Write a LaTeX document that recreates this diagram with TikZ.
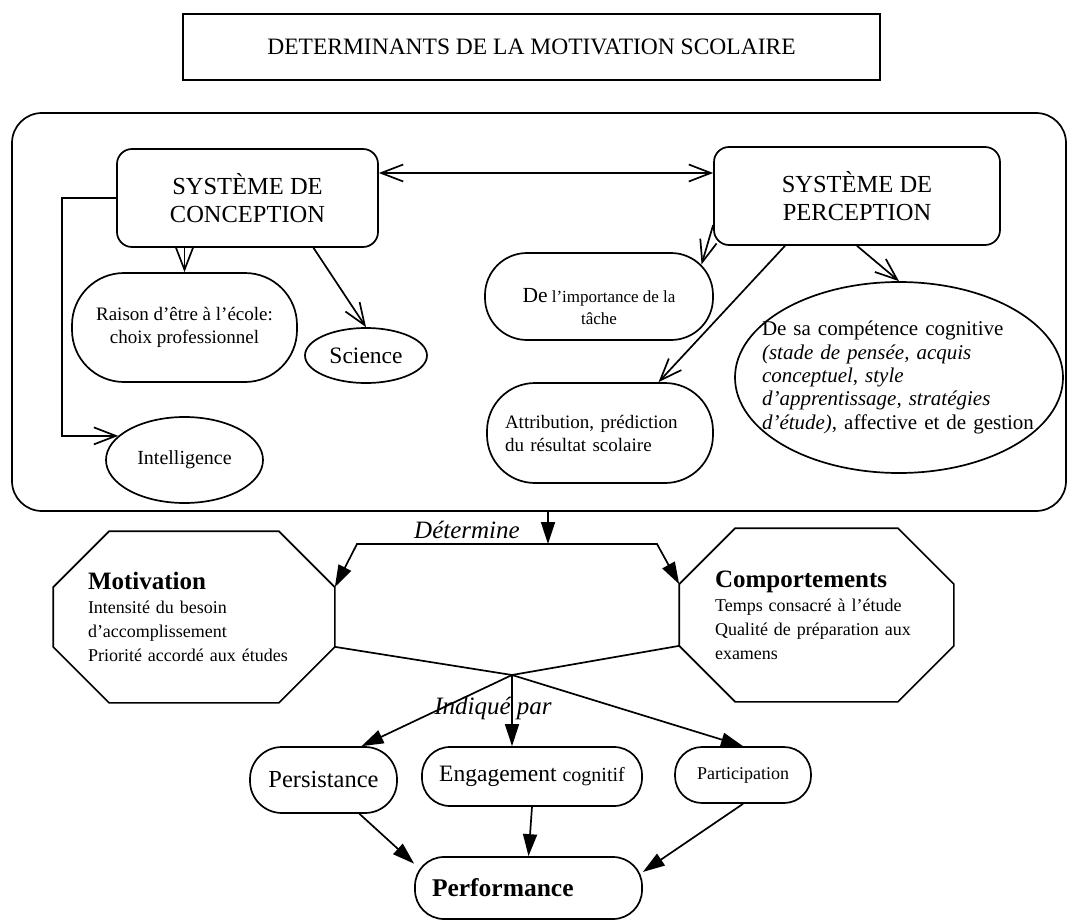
\documentclass[tikz,border=0pt]{standalone}
\usepackage{fontspec}
\setmainfont{Liberation Serif}
\usetikzlibrary{arrows.meta}
\usetikzlibrary{shapes.geometric}
\tikzset{
RB/.style={draw, rounded corners=15pt, align=center, inner sep=0pt},
ST/.style={draw, rounded corners=#1, inner sep=0pt},
EL/.style={draw, ellipse, inner sep=0pt},
FL/.style={-{Triangle[length=22pt,width=14pt]}}
}

\begin{document}
\begin{tikzpicture}[x=1pt,y=-1pt,line width=1.7pt,>={Straight Barb[length=22pt,width=17pt]}]
\useasboundingbox (0,0) rectangle (1076,923);

\node[draw, minimum width=697pt, minimum height=66pt, font={\fontsize{23.5}{27}\selectfont}] (title) at (531.5,47) {DETERMINANTS DE LA MOTIVATION SCOLAIRE};

% the two systems
\node[draw, rounded corners=30pt, minimum width=1054pt, minimum height=398pt] (big) at (539,312) {};
\node[RB, minimum width=261pt, minimum height=98pt, font={\fontsize{24.5}{28}\selectfont}] (conc) at (247.5,198) {SYSTÈME DE\\CONCEPTION};
\node[RB, minimum width=286pt, minimum height=98pt, font={\fontsize{24.5}{28}\selectfont}] (perc) at (857,196) {SYSTÈME DE\\PERCEPTION};

\node[ST=52pt, minimum width=225pt, minimum height=109pt, align=center, font={\fontsize{19}{23}\selectfont}] (rais) at (184.5,327.5) {Raison d'être à l'école:\\choix professionnel};
\node[EL, minimum width=122pt, minimum height=55pt, font={\fontsize{23.5}{25}\selectfont}] (sci) at (366,355.5) {Science};
\node[EL, minimum width=157pt, minimum height=86pt, font={\fontsize{20}{24}\selectfont}] (intel) at (184.5,460) {Intelligence};

\node[ST=42pt, minimum width=228pt, minimum height=87pt, align=center, font={\fontsize{17}{22}\selectfont}] (imp) at (599,296.5) {{\rule{0pt}{35pt}\fontsize{21.5}{22}\selectfont De} l'importance de la\\tâche};
\node[ST=48pt, minimum width=226pt, minimum height=100pt, text width=190pt, align=left, font={\fontsize{19}{23}\selectfont}] (attr) at (600,433) {Attribution, prédiction\\du résultat scolaire};
\node[EL, minimum width=328pt, minimum height=191pt, inner xsep=-26pt, text width=274pt, align=left, font={\fontsize{21}{23.3}\selectfont}] (cogn) at (899,377.5) {De sa compétence cognitive\\\textit{(stade de pensée, acquis}\\\textit{conceptuel}, \textit{style}\\\textit{d'apprentissage, stratégies}\\\textit{d'étude)}, affective et de gestion};

\coordinate (arr) at ([yshift=25pt]conc.east);
\draw[<->] (arr) -- (arr -| perc.west);
\draw[->] (conc.west) -- ++(-54,0) |- (intel.160);
\draw[->] (rais.north |- conc.south) -- (rais.north);
\draw[->] ([xshift=66pt]conc.south) -- (sci.north);
\draw[->] ([yshift=-29pt]perc.west) -- ([xshift=-12.3pt,yshift=-12.3pt]imp.north east);
\draw[->] ([xshift=-72pt]perc.south) -- (attr.41);
\draw[->] (perc.south) -- (cogn.north);

% octagons
\node[minimum width=280pt, minimum height=170pt, text width=212pt, align=left, font={\fontsize{18}{24}\selectfont}] (mot) at (194,617) {{\fontsize{25}{24}\selectfont\bfseries Motivation}\\Intensité du besoin\\d'accomplissement\\Priorité accordé aux études};
\node[minimum width=273pt, minimum height=172pt, text width=203pt, align=left, font={\fontsize{18}{24}\selectfont}] (comport) at (816.5,615) {{\fontsize{25}{24}\selectfont\bfseries Comportements}\\Temps consacré à l'étude\\Qualité de préparation aux\\examens};
\foreach \n in {mot,comport}{
\draw ([xshift=56pt]\n.north west) -- ([xshift=-56pt]\n.north east) -- ([yshift=-56pt]\n.north east) -- ([yshift=56pt]\n.south east) -- ([xshift=-56pt]\n.south east) -- ([xshift=56pt]\n.south west) -- ([yshift=56pt]\n.south west) -- ([yshift=-56pt]\n.north west) -- cycle;
}

\node[ST=32pt, minimum width=147pt, minimum height=66pt, font={\fontsize{24.5}{27}\selectfont}] (pers) at (323.5,780) {Persistance};
\node[ST=28pt, minimum width=220pt, minimum height=59pt, font={\fontsize{23.5}{27}\selectfont}] (eng) at (532,776.5) {Engagement {\fontsize{20}{24}\selectfont cognitif}};
\node[ST=27pt, minimum width=136pt, minimum height=56pt, font={\fontsize{18}{22}\selectfont}] (part) at (743,775) {Participation};
\node[ST=29pt, minimum width=227pt, minimum height=62pt, text width=193pt, align=left, font={\fontsize{25.5}{28}\selectfont\bfseries}] (perf) at (528.5,888) {Performance};

\coordinate (det) at (548,544);
\coordinate (detL) at (357,544);
\coordinate (detR) at (657,544);
\coordinate (J) at (512,675);

\draw[FL] (det |- big.south) -- (det);
\draw[FL] (det) -- (detL) -- ([yshift=-56pt]mot.north east);
\draw[FL] (det) -- (detR) -- ([yshift=-56pt]comport.north west);
\draw ([yshift=56pt]mot.south east) -- (J);
\draw ([yshift=56pt]comport.south west) -- (J);
\draw[FL] (J) -- ([xshift=38pt]pers.north);
\draw[FL] (J) -- (J |- eng.north);
\draw[FL] (J) -- (part.north);
\draw[FL] ([xshift=36pt]pers.south) -- (perf.168);
\draw[FL] (eng.south) -- (perf.north);
\draw[FL] (part.south) -- (perf.8);

\node[font={\fontsize{25}{27}\selectfont\itshape}] (detlab) at (467,530) {Détermine};
\node[font={\fontsize{25}{27}\selectfont\itshape}] (indlab) at (493,708) {Indiqué par};
\end{tikzpicture}
\end{document}
